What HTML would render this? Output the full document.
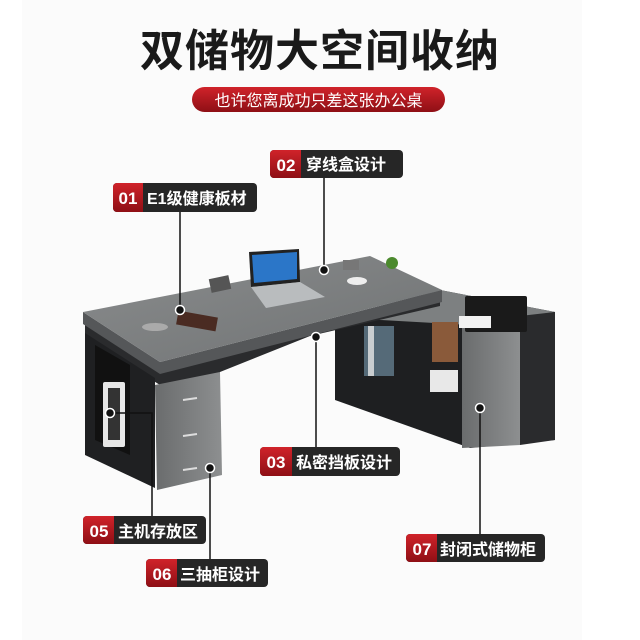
<!DOCTYPE html>
<html><head><meta charset="utf-8"><style>
html,body{margin:0;padding:0;background:#fff}
svg{display:block}
text{font-family:"Liberation Sans","Noto Sans CJK SC",sans-serif}
</style></head><body>
<svg width="640" height="640" viewBox="0 0 640 640" xmlns="http://www.w3.org/2000/svg">
<defs>
<linearGradient id="red" x1="0" y1="0" x2="0" y2="1"><stop offset="0" stop-color="#d0232a"/><stop offset="1" stop-color="#8e0f15"/></linearGradient>
<linearGradient id="top" x1="0" y1="0" x2="1" y2="1"><stop offset="0" stop-color="#8a8c8d"/><stop offset="1" stop-color="#6f7273"/></linearGradient>
<linearGradient id="gray" x1="0" y1="0" x2="1" y2="0"><stop offset="0" stop-color="#6a6c6d"/><stop offset="1" stop-color="#8d8f90"/></linearGradient>
</defs>
<rect x="0" y="0" width="640" height="640" fill="#fff"/>
<rect x="22" y="0" width="560" height="640" fill="#fbfbfb"/>
<text x="320" y="66" text-anchor="middle" font-size="44" font-weight="bold" fill="#1a1a1a" letter-spacing="1">双储物大空间收纳</text>
<rect x="192" y="87" width="253" height="25" rx="12.5" fill="url(#red)"/>
<text x="318.5" y="106" text-anchor="middle" font-size="16" fill="#fff">也许您离成功只差这张办公桌</text>

<!-- return cabinet -->
<polygon points="335,318 440,290 555,312 555,440 470,448 335,400" fill="#1e1f21"/>
<polygon points="440,290 555,312 470,325 345,318" fill="#7d8081"/>
<polygon points="462,322 520,316 520,445 462,448" fill="url(#gray)"/>
<polygon points="520,316 555,312 555,440 520,445" fill="#2a2b2d"/>
<rect x="364" y="326" width="30" height="50" fill="#556a78"/>
<rect x="368" y="326" width="6" height="50" fill="#c9cdd0"/>
<rect x="432" y="322" width="26" height="40" fill="#8a5a3a"/>
<rect x="430" y="370" width="28" height="22" fill="#e8e8e8"/>
<rect x="465" y="296" width="62" height="36" rx="2" fill="#1a1a1a"/>
<rect x="459" y="316" width="32" height="12" fill="#f2f2f2"/>

<!-- desk frame -->
<polygon points="85,325 160,372 440,296 440,306 310,336 220,372 220,380 160,385 85,338" fill="#2a2b2d"/>
<polygon points="85,333 155,378 155,488 85,455" fill="#1f2022"/>
<polygon points="95,345 130,365 130,455 95,440" fill="#111"/>
<rect x="103" y="382" width="22" height="65" rx="2" fill="#e6e6e6"/>
<rect x="108" y="388" width="12" height="52" fill="#333"/>
<polygon points="155,385 220,372 222,475 157,490" fill="url(#gray)"/>
<line x1="183" y1="400" x2="197" y2="398" stroke="#ddd" stroke-width="2"/>
<line x1="183" y1="436" x2="197" y2="434" stroke="#ddd" stroke-width="2"/>
<line x1="183" y1="470" x2="197" y2="468" stroke="#ddd" stroke-width="2"/>

<!-- desk top -->
<polygon points="83,312 160,362 442,290 442,302 160,374 83,324" fill="#555759"/>
<polygon points="83,312 370,256 442,290 160,362" fill="url(#top)"/>
<!-- laptop -->
<polygon points="249,252 299,249 300,282 251,287" fill="#222"/>
<polygon points="252,255 297,252 297,279 254,283" fill="#2b76c8"/>
<polygon points="251,287 300,282 325,297 266,308" fill="#b9bcbe"/>
<rect x="210" y="277" width="20" height="14" fill="#555" transform="rotate(-12 220 284)"/>
<rect x="177" y="314" width="40" height="14" fill="#4a2b22" transform="rotate(10 197 321)"/>
<ellipse cx="155" cy="327" rx="13" ry="4" fill="#aaa"/>
<rect x="343" y="260" width="16" height="10" fill="#777"/>
<ellipse cx="357" cy="281" rx="10" ry="4" fill="#eee"/>
<circle cx="392" cy="263" r="6" fill="#4c8a2e"/>

<!-- connectors -->
<g stroke="#111" stroke-width="1.5" fill="none">
<line x1="180" y1="212" x2="180" y2="310"/>
<line x1="324" y1="177" x2="324" y2="270"/>
<line x1="316" y1="337" x2="316" y2="448"/>
<polyline points="110,413 152,413 152,516"/>
<line x1="210" y1="468" x2="210" y2="559"/>
<line x1="480" y1="408" x2="480" y2="534"/>
</g>
<g fill="#111" stroke="#fff" stroke-width="1.5">
<circle cx="180" cy="310" r="4.5"/><circle cx="324" cy="270" r="4.5"/><circle cx="316" cy="337" r="4.5"/>
<circle cx="110" cy="413" r="4.5"/><circle cx="210" cy="468" r="4.5"/><circle cx="480" cy="408" r="4.5"/>
</g>

<!-- labels -->
<g font-size="16" font-weight="bold">
<rect x="113" y="183" width="144" height="29" rx="4" fill="#262626"/><path d="M117,183 h26 v29 h-26 a4,4 0 0 1 -4,-4 v-21 a4,4 0 0 1 4,-4z" fill="url(#red)"/>
<text x="128" y="204" text-anchor="middle" fill="#fff" font-size="17">01</text><text x="147" y="204" fill="#fff">E1级健康板材</text>

<rect x="270" y="150" width="133" height="28" rx="4" fill="#262626"/><path d="M274,150 h27 v28 h-27 a4,4 0 0 1 -4,-4 v-20 a4,4 0 0 1 4,-4z" fill="url(#red)"/>
<text x="286" y="171" text-anchor="middle" fill="#fff" font-size="17">02</text><text x="306" y="170" fill="#fff">穿线盒设计</text>

<rect x="260" y="447" width="140" height="29" rx="4" fill="#262626"/><path d="M264,447 h28 v29 h-28 a4,4 0 0 1 -4,-4 v-21 a4,4 0 0 1 4,-4z" fill="url(#red)"/>
<text x="276" y="468" text-anchor="middle" fill="#fff" font-size="17">03</text><text x="296" y="468" fill="#fff">私密挡板设计</text>

<rect x="83" y="516" width="123" height="28" rx="4" fill="#262626"/><path d="M87,516 h27 v28 h-27 a4,4 0 0 1 -4,-4 v-20 a4,4 0 0 1 4,-4z" fill="url(#red)"/>
<text x="99" y="537" text-anchor="middle" fill="#fff" font-size="17">05</text><text x="118" y="537" fill="#fff">主机存放区</text>

<rect x="146" y="559" width="122" height="28" rx="4" fill="#262626"/><path d="M150,559 h27 v28 h-27 a4,4 0 0 1 -4,-4 v-20 a4,4 0 0 1 4,-4z" fill="url(#red)"/>
<text x="162" y="580" text-anchor="middle" fill="#fff" font-size="17">06</text><text x="180" y="580" fill="#fff">三抽柜设计</text>

<rect x="406" y="534" width="139" height="28" rx="4" fill="#262626"/><path d="M410,534 h27 v28 h-27 a4,4 0 0 1 -4,-4 v-20 a4,4 0 0 1 4,-4z" fill="url(#red)"/>
<text x="422" y="555" text-anchor="middle" fill="#fff" font-size="17">07</text><text x="440" y="555" fill="#fff">封闭式储物柜</text>
</g>
</svg>
</body></html>
